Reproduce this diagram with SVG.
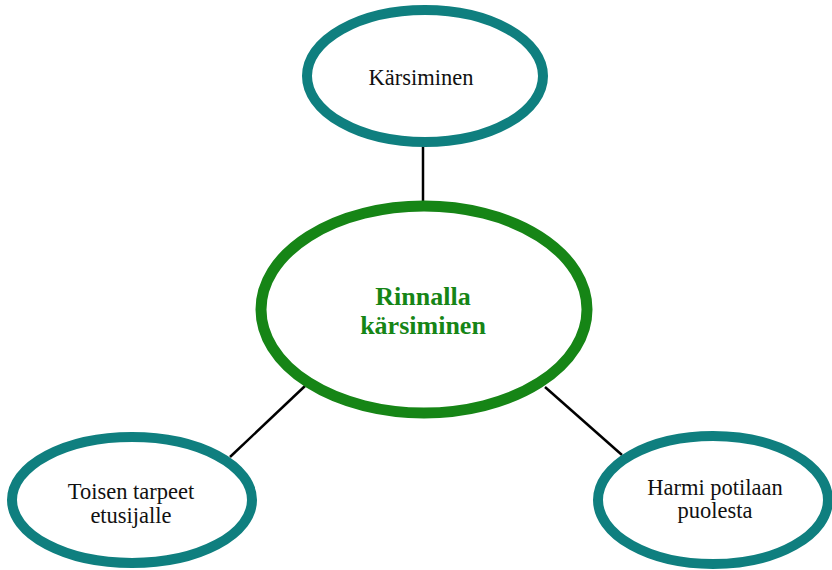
<svg xmlns="http://www.w3.org/2000/svg" width="832" height="570" viewBox="0 0 832 570">
  <style>
    .leaf { fill: #ffffff; stroke: #0f7f7f; stroke-width: 10; }
    .core { fill: #ffffff; stroke: #168516; stroke-width: 11; }
    .link { stroke: #000000; stroke-width: 2.5; fill: none; }
    .lbl { font-family: "Liberation Serif", "Times New Roman", serif; font-size: 22.5px; fill: #111111; text-anchor: middle; }
    .core-lbl { font-family: "Liberation Serif", "Times New Roman", serif; font-size: 26px; font-weight: bold; fill: #168516; text-anchor: middle; }
  </style>
  <rect width="832" height="570" fill="#ffffff"/>

  <g id="connectors">
    <line class="link" x1="423" y1="146" x2="423" y2="202"/>
    <line class="link" x1="305" y1="386" x2="230" y2="457"/>
    <line class="link" x1="545" y1="387" x2="622" y2="455"/>
  </g>

  <g id="node-karsiminen">
    <ellipse class="leaf" cx="425" cy="76" rx="118" ry="66"/>
    <text class="lbl" x="421" y="85">Kärsiminen</text>
  </g>

  <g id="node-rinnalla">
    <ellipse class="core" cx="424" cy="309.5" rx="163" ry="103.5"/>
    <text class="core-lbl" x="423" y="305">Rinnalla</text>
    <text class="core-lbl" x="423" y="334">kärsiminen</text>
  </g>

  <g id="node-toisen">
    <ellipse class="leaf" cx="132" cy="500" rx="120" ry="63"/>
    <text class="lbl" x="131" y="499">Toisen tarpeet</text>
    <text class="lbl" x="131" y="523">etusijalle</text>
  </g>

  <g id="node-harmi">
    <ellipse class="leaf" cx="713" cy="500" rx="115" ry="64"/>
    <text class="lbl" x="715" y="495">Harmi potilaan</text>
    <text class="lbl" x="715" y="518">puolesta</text>
  </g>
</svg>
